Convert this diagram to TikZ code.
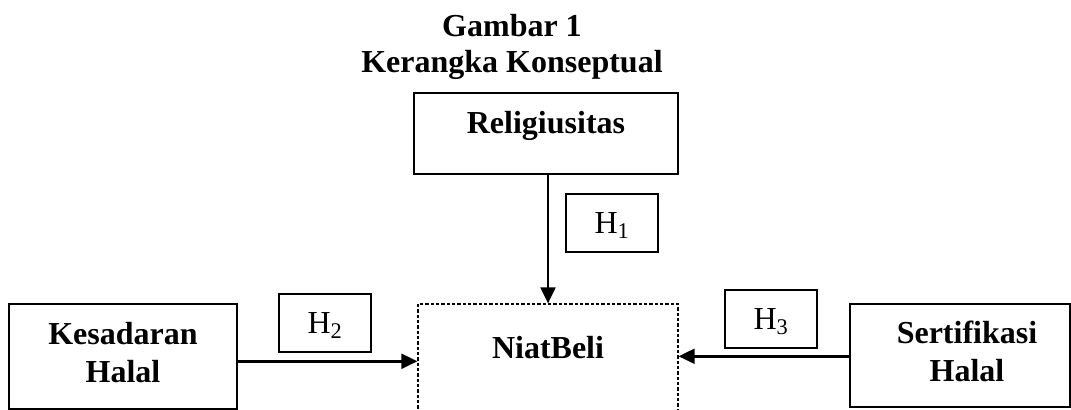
\documentclass[tikz,border=0pt]{standalone}
\usepackage{fontspec}
\setmainfont{Liberation Serif}
\usetikzlibrary{arrows.meta,fit}
\begin{document}
\begin{tikzpicture}[x=0.75pt,y=-0.75pt,
  box/.style={draw,line width=1.1pt,inner sep=0pt},
  dbox/.style={draw,dash pattern=on 2.5pt off 1.5pt,line width=0.8pt,inner sep=0pt},
  lbl/.style={font=\fontsize{24}{28.5}\selectfont\bfseries,align=center,anchor=base,inner sep=0pt},
  hyp/.style={draw,line width=1pt,font=\fontsize{24}{28}\selectfont,inner sep=0pt,
    minimum width=69pt,minimum height=43.5pt,text height=15.75pt,text depth=0pt},
  arr/.style={line width=2.1pt,-{Triangle[length=12pt,width=11pt]}}]
\useasboundingbox (0,0) rectangle (1071,410);
\clip (0,0) rectangle (1071,410);

\node[lbl,font=\fontsize{24}{27}\selectfont\bfseries] (title) at (512,73) {Gambar 1\\Kerangka Konseptual};

\node[box,fit={(414,93) (678,174)}] (rel) {};
\node[lbl] (trel) at (546,133) {Religiusitas};

\node[box,fit={(9,304) (237,409)}] (kes) {};
\node[lbl] (tkes) at (123,382) {Kesadaran\\Halal};

\node[dbox,fit={(418,304) (678,440)}] (niat) {};
\node[lbl] (tniat) at (548,358) {NiatBeli};

\node[box,fit={(850,304) (1070,407)}] (sert) {};
\node[lbl] (tsert) at (967,381) {Sertifikasi\\Halal};

\node[hyp] (h1) at (612,223) {H\textsubscript{1}};
\node[hyp] (h2) at (325,323) {H\textsubscript{2}};
\node[hyp] (h3) at (771,319) {H\textsubscript{3}};

\draw[arr] (niat.north |- rel.south) -- (niat.north);
\coordinate (k1) at ([shift={(0,58)}]kes.north east);
\draw[arr] (k1) -- (k1 -| niat.west);
\coordinate (s1) at ([shift={(0,53)}]sert.north west);
\draw[arr] (s1) -- (s1 -| niat.east);
\end{tikzpicture}
\end{document}
